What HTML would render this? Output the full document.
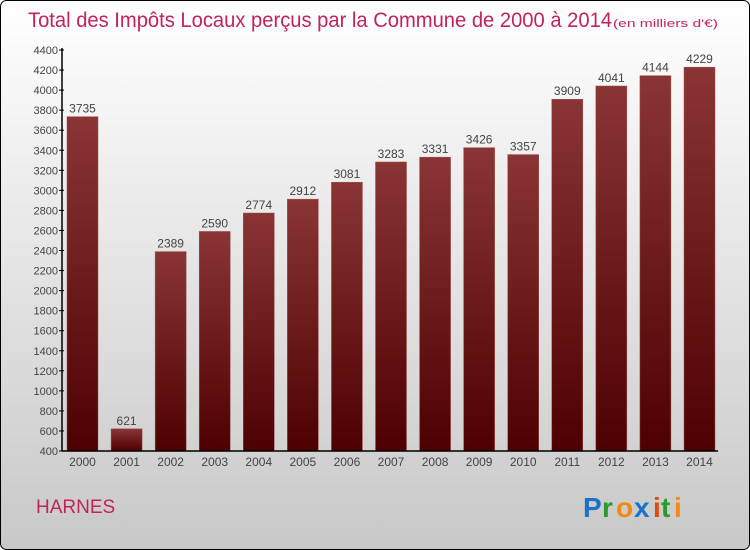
<!DOCTYPE html>
<html><head><meta charset="utf-8"><style>
html,body{margin:0;padding:0;width:750px;height:550px;overflow:hidden;background:#fff}
svg text{font-family:"Liberation Sans",sans-serif}
</style></head><body>
<svg width="750" height="550" xmlns="http://www.w3.org/2000/svg">
<defs>
<linearGradient id="bg" x1="0" y1="0" x2="0" y2="1"><stop offset="0" stop-color="#ffffff"/><stop offset="1" stop-color="#c8c8c8"/></linearGradient>
<linearGradient id="bar" x1="0" y1="0" x2="0" y2="1"><stop offset="0" stop-color="#8a3535"/><stop offset="1" stop-color="#4e0000"/></linearGradient>
</defs>
<rect x="0.5" y="0.5" width="749" height="549" rx="6" fill="url(#bg)" stroke="#000"/>
<text x="28" y="27" font-size="21" fill="#c2245a" textLength="584" lengthAdjust="spacingAndGlyphs">Total des Impôts Locaux perçus par la Commune de 2000 à 2014</text>
<text x="613" y="27" font-size="11" fill="#c2245a" textLength="105" lengthAdjust="spacingAndGlyphs">(en milliers d'€)</text>
<g id="yaxis"></g><g id="bars"></g><g id="xaxis"></g>
<text x="36" y="513" font-size="19" fill="#c2245a">HARNES</text>
<g font-size="28" font-weight="bold">
<text x="583" y="517" fill="#1a73c8">P</text><text x="602" y="517" fill="#2a9a2a">r</text><text x="616" y="517" fill="#f08a10">o</text><text x="634" y="517" fill="#1a73c8">x</text><text x="653" y="517" fill="#e04a10">i</text><text x="661" y="517" fill="#2a9a2a">t</text><text x="674" y="517" fill="#f08a10">i</text>
</g>
</svg>
<script>
const categories=["2000","2001","2002","2003","2004","2005","2006","2007","2008","2009","2010","2011","2012","2013","2014"];
const values=[3735,621,2389,2590,2774,2912,3081,3283,3331,3426,3357,3909,4041,4144,4229];
const yTicks=[400,600,800,1000,1200,1400,1600,1800,2000,2200,2400,2600,2800,3000,3200,3400,3600,3800,4000,4200,4400];
const NS="http://www.w3.org/2000/svg";
const y0=451,y1=50,vMin=400,vMax=4400,xL=62,xR=718;
function y(v){return y0-(v-vMin)/(vMax-vMin)*(y0-y1);}
function xc(i){return 82.5+i*(699.5-82.5)/(categories.length-1);}
function mk(tag,a,p){const e=document.createElementNS(NS,tag);for(const k in a)e.setAttribute(k,a[k]);p.appendChild(e);return e;}
const ya=document.getElementById('yaxis'),bg=document.getElementById('bars'),xa=document.getElementById('xaxis');
let l=mk('line',{x1:xL,y1:y1-2,x2:xL,y2:y0,stroke:'#000','stroke-width':1.5},ya);


yTicks.forEach(t=>{
 mk('line',{x1:xL-3,x2:xL+2,y1:y(t),y2:y(t),stroke:'#000'},ya);
 const tx=mk('text',{x:xL-4,y:y(t)+4,'font-size':11,'text-anchor':'end',fill:'#444'},ya);
 tx.textContent=t;
 
 
});
values.forEach((v,i)=>{
 const r=mk('rect',{x:xc(i)-15.5,y:y(v),width:31,height:y0-y(v),fill:'url(#bar)',stroke:'#a05050','stroke-width':0.5},bg);
 
 
 const t=mk('text',{x:xc(i),y:y(v)-4,'font-size':12,'text-anchor':'middle',fill:'#444'},bg);
 t.textContent=v;
 
 
 const c=mk('text',{x:xc(i),y:y0+15,'font-size':12,'text-anchor':'middle',fill:'#444'},xa);
 c.textContent=categories[i];
 
 
});
l=mk('line',{x1:xL,y1:y0,x2:xR,y2:y0,stroke:'#000','stroke-width':1.5},xa);


</script>
</body></html>
